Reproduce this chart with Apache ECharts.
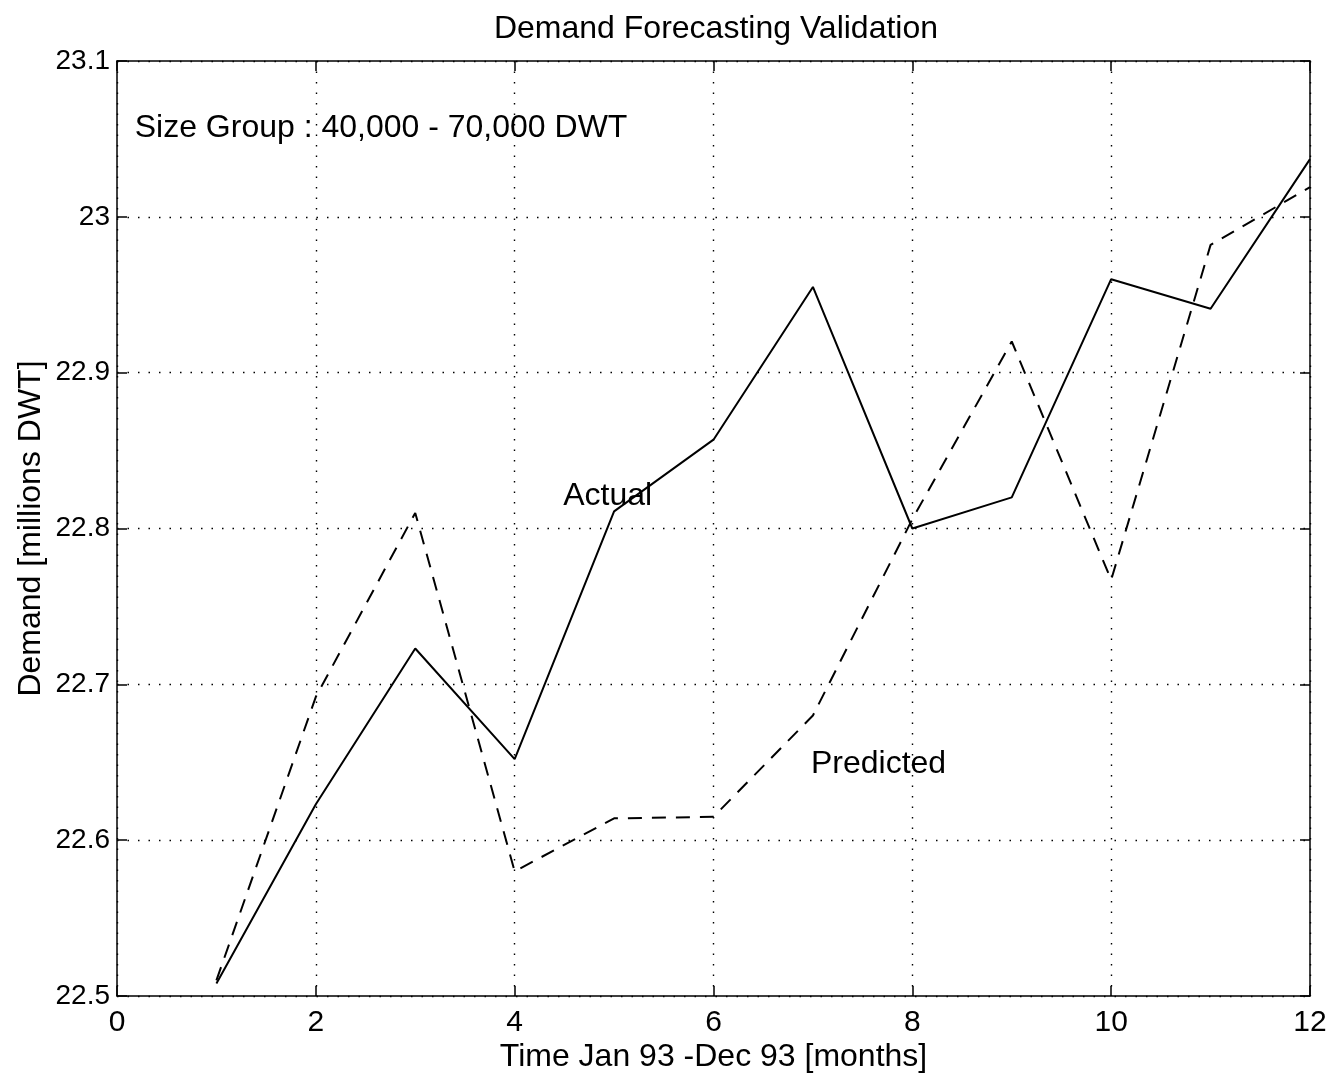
<!DOCTYPE html>
<html>
<head>
<meta charset="utf-8">
<title>Demand Forecasting Validation</title>
<script src="https://cdn.jsdelivr.net/npm/echarts@6/dist/echarts.min.js"></script>
<style>
  html, body { margin: 0; padding: 0; background: #fff; }
  #chart { width: 1337px; height: 1080px; }
</style>
</head>
<body>
<div id="chart"></div>
<script>
// Months of 1993 (1 = Jan ... 12 = Dec)
const months = [1, 2, 3, 4, 5, 6, 7, 8, 9, 10, 11, 12];
// Demand in millions DWT, size group 40,000 - 70,000 DWT
const actual = [22.508, 22.623, 22.723, 22.652, 22.811, 22.857, 22.955, 22.800, 22.820, 22.960, 22.941, 23.037];
const predicted = [22.510, 22.692, 22.810, 22.580, 22.614, 22.615, 22.680, 22.806, 22.920, 22.767, 22.982, 23.019];

const xTicks = [0, 2, 4, 6, 8, 10, 12];
const yTicks = [22.5, 22.6, 22.7, 22.8, 22.9, 23, 23.1];

const FONT = 'Liberation Sans, Arial, Helvetica, sans-serif';

const chart = echarts.init(document.getElementById('chart'), null, { renderer: 'canvas' });

const gridLine = { show: true, lineStyle: { color: '#000', width: 1.4, type: [1.5, 9] } };
const frameLine = { show: true, onZero: false, lineStyle: { color: '#000', width: 1.5 } };
const inTick = { show: true, inside: true, length: 10, lineStyle: { color: '#000', width: 1.5 } };

function textLabel(text, size) {
  return { show: true, formatter: text, color: '#000', fontFamily: FONT, fontSize: size };
}

chart.setOption({
  animation: false,
  backgroundColor: '#fff',
  title: {
    text: 'Demand Forecasting Validation',
    left: 711, top: 8, textAlign: 'center',
    textStyle: { fontFamily: FONT, fontSize: 32, fontWeight: 'normal', color: '#000' }
  },
  grid: { left: 117, right: 27, top: 61, bottom: 84, containLabel: false, outerBoundsMode: 'none' },
  xAxis: [
    {
      type: 'value', min: xTicks[0], max: xTicks[xTicks.length - 1], interval: 2,
      axisLine: frameLine, axisTick: inTick, splitLine: gridLine,
      axisLabel: { color: '#000', fontFamily: FONT, fontSize: 30, margin: 12 },
      name: 'Time Jan 93 -Dec 93 [months]', nameLocation: 'middle', nameGap: 45,
      nameMoveOverlap: false,
      nameTextStyle: { color: '#000', fontFamily: FONT, fontSize: 32 }
    },
    {
      type: 'value', position: 'top', min: xTicks[0], max: xTicks[xTicks.length - 1], interval: 2,
      axisLine: frameLine, axisTick: inTick, splitLine: { show: false },
      axisLabel: { show: false }
    }
  ],
  yAxis: [
    {
      type: 'value', min: yTicks[0], max: yTicks[yTicks.length - 1], interval: 0.1,
      axisLine: frameLine, axisTick: inTick, splitLine: gridLine,
      axisLabel: {
        color: '#000', fontFamily: FONT, fontSize: 28, margin: 7,
        formatter: v => String(+v.toFixed(1))
      },
      name: 'Demand [millions DWT]', nameLocation: 'middle', nameGap: 70, nameRotate: 90,
      nameMoveOverlap: false,
      nameTextStyle: { color: '#000', fontFamily: FONT, fontSize: 32 }
    },
    {
      type: 'value', position: 'right', min: yTicks[0], max: yTicks[yTicks.length - 1], interval: 0.1,
      axisLine: frameLine, axisTick: inTick, splitLine: { show: false },
      axisLabel: { show: false }
    }
  ],
  series: [
    {
      name: 'Actual', type: 'line', xAxisIndex: 0, yAxisIndex: 0,
      data: months.map((m, i) => [m, actual[i]]),
      showSymbol: false, silent: true,
      lineStyle: { color: '#000', width: 2, type: 'solid' },
      markPoint: {
        symbol: 'rect', symbolSize: 1, itemStyle: { color: 'transparent' },
        data: [
          { coord: [4.935, 22.821], label: textLabel('Actual', 32) },
          { coord: [7.66, 22.649], label: textLabel('Predicted', 32) },
          { coord: [2.656, 23.057], label: textLabel('Size Group : 40,000 - 70,000 DWT', 32) }
        ]
      }
    },
    {
      name: 'Predicted', type: 'line', xAxisIndex: 0, yAxisIndex: 0,
      data: months.map((m, i) => [m, predicted[i]]),
      showSymbol: false, silent: true,
      lineStyle: { color: '#000', width: 2, type: [14, 10] }
    }
  ]
});
</script>
</body>
</html>
